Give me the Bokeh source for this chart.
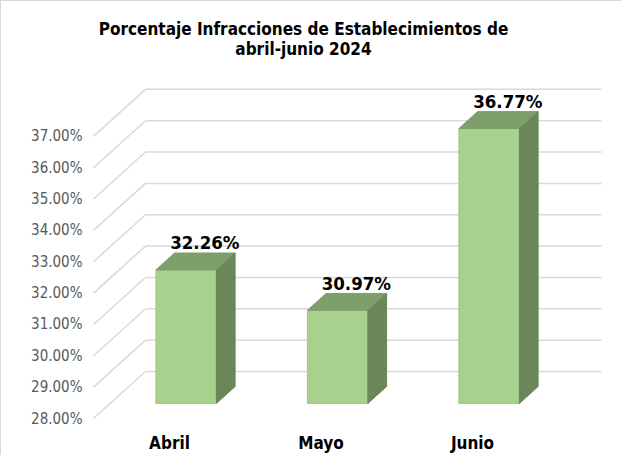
from bokeh.plotting import figure
from bokeh.models import Range1d, FixedTicker, PrintfTickFormatter, Label
from bokeh.embed import file_html
from bokeh.resources import INLINE
from bokeh.core.properties import value

# ---------------- data ----------------
categories = ["Abril", "Mayo", "Junio"]
percentages = [32.26, 30.97, 36.77]
value_labels = ["32.26%", "30.97%", "36.77%"]
y_ticks = [28, 29, 30, 31, 32, 33, 34, 35, 36, 37]
title_lines = ["Porcentaje Infracciones de Establecimientos de", "abril-junio 2024"]
BASE = 28.0

# ---------------- layout (px) ----------------
W, H = 621, 455
BORDER_L, BORDER_B = 84, 31
PAGE = 8
PX_X = 151.5          # px per category step
PX_Y = 31.35          # px per 1 %
CAT0_PAGE_X = 176     # page x of first category (front plane)
BASE_PAGE_Y = 425     # page y of 28 % on front plane
frame_left = PAGE + BORDER_L
frame_bottom = PAGE + H - BORDER_B
x_start = -(CAT0_PAGE_X - frame_left) / PX_X
x_end = x_start + (W - BORDER_L) / PX_X
y_start = BASE - (frame_bottom - BASE_PAGE_Y) / PX_Y
y_end = y_start + (H - BORDER_B) / PX_Y

def px2x(px):
    return (px - CAT0_PAGE_X) / PX_X

def py2y(py):
    return BASE + (BASE_PAGE_Y - py) / PX_Y

DX = 52 / PX_X        # depth shift in x units
DY = 47 / PX_Y        # depth shift in y units
F1, F2 = 0.32, 0.68   # bar depth fractions
HW = 30.25 / PX_X     # half bar width
WALL_X = px2x(100)
WALL_END = px2x(608)
LABEL_GAP = 10 / PX_Y

FONT = "DejaVu Sans Condensed"
GRID = "#d9d9d9"
FRONT = "#a9d18e"
TOP = "#7f9f6a"
SIDE = "#6b8759"

p = figure(width=W, height=H, output_backend="svg", toolbar_location=None,
           x_range=Range1d(x_start, x_end), y_range=Range1d(y_start, y_end),
           min_border_left=BORDER_L, min_border_right=0, min_border_top=0,
           min_border_bottom=BORDER_B)
p.outline_line_color = None
p.grid.visible = False
p.background_fill_color = "white"
p.border_fill_color = "white"
p.styles = {"border-top": "1px solid #d9d9d9", "border-left": "1px solid #d9d9d9"}

# walls gridlines
p.segment(x0=[WALL_X] * len(y_ticks), y0=y_ticks,
          x1=[WALL_X + DX] * len(y_ticks), y1=[t + DY for t in y_ticks],
          line_color=GRID, line_width=1.5)
p.segment(x0=[WALL_X + DX] * len(y_ticks), y0=[t + DY for t in y_ticks],
          x1=[WALL_END] * len(y_ticks), y1=[t + DY for t in y_ticks],
          line_color=GRID, line_width=1.5)

xs = list(range(len(categories)))
# front faces
p.quad(left=[x - HW + F1 * DX for x in xs], right=[x + HW + F1 * DX for x in xs],
       bottom=[BASE + F1 * DY] * len(xs), top=[v + F1 * DY for v in percentages],
       fill_color=FRONT, line_color="#9fc883", line_width=1)
# top faces
p.patches(xs=[[x - HW + F1 * DX, x + HW + F1 * DX, x + HW + F2 * DX, x - HW + F2 * DX] for x in xs],
          ys=[[v + F1 * DY, v + F1 * DY, v + F2 * DY, v + F2 * DY] for v in percentages],
          fill_color=TOP, line_color=TOP, line_width=1)
# side faces
p.patches(xs=[[x + HW + F1 * DX, x + HW + F1 * DX, x + HW + F2 * DX, x + HW + F2 * DX] for x in xs],
          ys=[[BASE + F1 * DY, v + F1 * DY, v + F2 * DY, BASE + F2 * DY] for v in percentages],
          fill_color=SIDE, line_color=SIDE, line_width=1)

# data labels
p.text(x=[x + F2 * DX for x in xs], y=[v + F2 * DY + LABEL_GAP for v in percentages],
       text=value_labels, text_align="center", text_baseline="middle",
       text_font=value(FONT), text_font_style="bold", text_font_size="18.5px", text_color="black")

# title
for line, py in zip(title_lines, [35, 55]):
    p.add_layout(Label(x=px2x(310), y=py2y(py), text=line, text_align="center",
                       text_baseline="middle", text_font=FONT, text_font_style="bold",
                       text_font_size="17px", text_color="black"))

# axes
p.yaxis.ticker = FixedTicker(ticks=y_ticks)
p.yaxis.formatter = PrintfTickFormatter(format="%.2f%%")
p.yaxis.axis_line_color = None
p.yaxis.major_tick_line_color = None
p.yaxis.minor_tick_line_color = None
p.yaxis.major_tick_out = 0
p.yaxis.major_label_standoff = 3
p.yaxis.major_label_text_font = FONT
p.yaxis.major_label_text_font_size = "15px"
p.yaxis.major_label_text_color = "#595959"

p.xaxis.ticker = FixedTicker(ticks=xs)
p.xaxis.major_label_overrides = {i: c for i, c in enumerate(categories)}
p.xaxis.axis_line_color = None
p.xaxis.major_tick_line_color = None
p.xaxis.minor_tick_line_color = None
p.xaxis.major_tick_out = 0
p.xaxis.major_label_standoff = 7
p.xaxis.major_label_text_font = FONT
p.xaxis.major_label_text_font_style = "bold"
p.xaxis.major_label_text_font_size = "17px"
p.xaxis.major_label_text_color = "black"

open("out.html", "w").write(file_html(p, INLINE))
